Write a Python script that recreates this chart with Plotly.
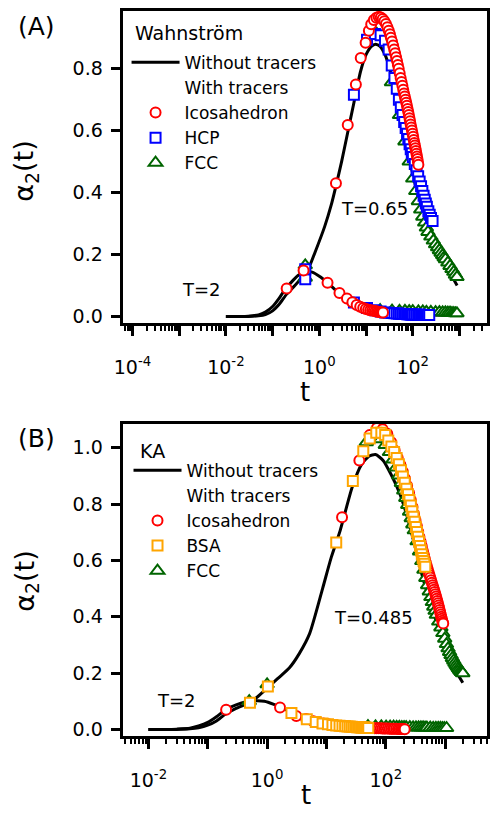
import plotly.graph_objects as go

FONT = "DejaVu Sans"
RED = "#ff0000"; BLUE = "#0000ff"; GREEN = "#006400"; ORANGE = "#ffa500"

# ---------------- Panel A (Wahnström) ----------------
A_black_T2_t = [0.01, 0.02, 0.03, 0.05, 0.07, 0.1, 0.14, 0.18, 0.25, 0.35, 0.5, 0.7, 1.0, 1.5, 2.5, 4, 6, 10, 15, 25, 50, 100, 250, 500]
A_black_T2_v = [0.0, 0.0, 0.001, 0.005, 0.014, 0.032, 0.06, 0.085, 0.11, 0.132, 0.145, 0.143, 0.13, 0.109, 0.078, 0.056, 0.04, 0.026, 0.019, 0.013, 0.008, 0.006, 0.005, 0.004]

A_black_T065_t = [0.01, 0.03, 0.05, 0.07, 0.1, 0.14, 0.2, 0.3, 0.45, 0.6, 0.8, 1.3, 1.8, 2.3, 3.0, 4.0, 5.5, 7.6, 10, 13, 16, 20, 26, 32, 39, 50, 63, 80, 100, 140, 210, 300, 430, 600, 890]
A_black_T065_v = [0.0, 0.0, 0.002, 0.006, 0.018, 0.04, 0.072, 0.1, 0.13, 0.158, 0.205, 0.29, 0.36, 0.425, 0.5, 0.59, 0.69, 0.79, 0.845, 0.872, 0.879, 0.872, 0.842, 0.80, 0.746, 0.675, 0.61, 0.53, 0.46, 0.37, 0.27, 0.22, 0.18, 0.145, 0.10]

A_ico_T2_t = [0.2, 0.46, 1.5, 2.7, 3.9, 5.1, 6.3, 7.5, 8.7, 9.9, 11.1, 12.3, 13.5, 14.7, 15.9, 17.1, 18.3, 19.5, 20.7, 21.9, 23.1]
A_ico_T2_v = [0.09, 0.148, 0.109, 0.076, 0.058, 0.046, 0.037, 0.031, 0.027, 0.024, 0.022, 0.02, 0.019, 0.018, 0.017, 0.016, 0.015, 0.014, 0.0135, 0.013, 0.0125]

A_ico_T065_t = [2.27, 4.06, 6.06, 7.7, 9.8, 11.5, 12.9, 14.7, 16.7, 18.7, 20.7, 22.7, 24.7, 26.7, 28.7,
                30.7, 32.5, 34, 36, 38, 40, 42, 44, 46, 48, 50, 52.5, 55, 57.5, 60, 62.5, 65, 67.5, 70, 72.5,
                75, 77.5, 80, 82.5, 85, 87.5, 90, 93, 96, 99, 102, 105, 108, 111, 114, 117, 120, 123, 126, 129, 132]
A_ico_T065_v = [0.43, 0.618, 0.749, 0.834, 0.884, 0.922, 0.943, 0.957, 0.964, 0.967, 0.965, 0.96, 0.953, 0.944, 0.934,
                0.922, 0.911, 0.9, 0.888, 0.875, 0.862, 0.85, 0.837, 0.825, 0.812, 0.80, 0.785, 0.77, 0.757, 0.745, 0.732, 0.72, 0.71, 0.70, 0.69,
                0.68, 0.67, 0.66, 0.65, 0.64, 0.63, 0.62, 0.61, 0.60, 0.59, 0.58, 0.57, 0.56, 0.552, 0.543, 0.534, 0.525, 0.516, 0.508, 0.499, 0.49]

A_hcp_T2_t = [0.5, 5.5, 10.5, 15.5, 20.5, 25.5, 30.5, 35.5, 40.5, 45.5, 50.5, 55.5, 60.5, 65.5, 70.5, 75.5, 80.5, 85.5, 90.5, 95.5, 100.5, 110.5, 120.5, 130.5, 140.5, 150.5, 160.5, 170.5, 180.5, 190.5, 200.5, 210.5, 225.5]
A_hcp_T2_v = [0.12, 0.045, 0.027, 0.02, 0.016, 0.013, 0.012, 0.011, 0.010, 0.0095, 0.009, 0.0085, 0.008, 0.0078, 0.0075, 0.0073, 0.007, 0.0068, 0.0066, 0.0064, 0.0062, 0.006, 0.0058, 0.0056, 0.0054, 0.0052, 0.005, 0.0049, 0.0048, 0.0047, 0.0046, 0.0045, 0.0044]

A_hcp_T065_t = [0.5, 5.5, 10.5, 15.5, 20.5, 25.5, 30.5, 35.5, 40.5, 45.5, 50.5, 55.5, 60.5, 65.5, 70.5, 75.5, 80.5, 85.5, 90.5, 95.5, 100.5, 110.5, 120.5, 130.5, 140.5, 150.5, 160.5, 170.5, 180.5, 190.5, 200.5, 215.5, 230.5, 245.5, 265.5]
A_hcp_T065_v = [0.152, 0.716, 0.893, 0.912, 0.908, 0.89, 0.862, 0.81, 0.77, 0.735, 0.70, 0.675, 0.65, 0.628, 0.608, 0.59, 0.573, 0.556, 0.54, 0.527, 0.515, 0.492, 0.472, 0.453, 0.436, 0.42, 0.405, 0.39, 0.377, 0.365, 0.354, 0.34, 0.328, 0.318, 0.308]

A_fcc_T2_t = [0.5, 20, 36, 52, 68, 84, 100, 132, 164, 196, 244, 308, 372, 436, 500, 564, 628, 692, 756, 820, 884]
A_fcc_T2_v = [0.125, 0.02, 0.019, 0.018, 0.018, 0.017, 0.017, 0.016, 0.016, 0.015, 0.015, 0.014, 0.014, 0.013, 0.013, 0.012, 0.012, 0.011, 0.011, 0.01, 0.01]

A_fcc_T065_t = [0.5, 17, 35, 52, 68, 84, 100, 116, 132, 148, 164, 180, 196, 212, 244, 276, 308, 340, 372, 404, 436, 468, 500, 564, 628, 692, 756, 820, 884]
A_fcc_T065_v = [0.165, 0.912, 0.756, 0.65, 0.565, 0.50, 0.445, 0.405, 0.372, 0.345, 0.322, 0.303, 0.287, 0.273, 0.258, 0.245, 0.233, 0.223, 0.214, 0.206, 0.198, 0.191, 0.185, 0.174, 0.163, 0.153, 0.144, 0.135, 0.127]

# ---------------- Panel B (KA) ----------------
B_black_T2_t = [0.01, 0.02, 0.03, 0.05, 0.07, 0.1, 0.14, 0.2, 0.3, 0.45, 0.65, 0.9, 1.3, 1.8, 2.6, 4, 6, 10, 20, 50, 100, 200, 500, 1000]
B_black_T2_v = [0.0, 0.0, 0.001, 0.004, 0.012, 0.025, 0.045, 0.07, 0.087, 0.098, 0.102, 0.1, 0.089, 0.076, 0.059, 0.041, 0.029, 0.018, 0.01, 0.005, 0.003, 0.002, 0.0015, 0.001]

B_black_T0485_t = [0.01, 0.03, 0.05, 0.07, 0.1, 0.14, 0.2, 0.3, 0.5, 0.7, 1.0, 1.5, 2.4, 3.5, 5.2, 8.6, 12, 17, 27, 39, 52, 67, 90, 122, 170, 231, 310, 430, 560, 800, 1055, 1400, 1980]
B_black_T0485_v = [0.0, 0.0, 0.002, 0.006, 0.015, 0.03, 0.055, 0.075, 0.095, 0.117, 0.146, 0.18, 0.22, 0.27, 0.34, 0.50, 0.61, 0.706, 0.859, 0.941, 0.97, 0.976, 0.955, 0.906, 0.84, 0.753, 0.65, 0.53, 0.45, 0.35, 0.28, 0.22, 0.166]

B_ico_T2_t = [0.204, 1.65, 3.1, 4.55, 6.0, 7.45, 8.9, 10.35, 11.8, 13.25, 14.7, 17.6, 20.5, 23.4, 26.3, 29.2, 32.1, 35, 38, 41, 44, 47, 50, 55, 60, 65, 70, 76, 82, 88, 94, 100, 108, 116, 124, 132, 140, 150, 160, 170, 180, 190, 200, 208]
B_ico_T2_v = [0.07, 0.078, 0.048, 0.037, 0.029, 0.024, 0.021, 0.019, 0.017, 0.0155, 0.014, 0.012, 0.011, 0.01, 0.009, 0.0085, 0.008, 0.0075, 0.007, 0.0065, 0.006, 0.0057, 0.0055, 0.005, 0.0047, 0.0044, 0.0042, 0.004, 0.0037, 0.0035, 0.0033, 0.0031, 0.0029, 0.0027, 0.0025, 0.0023, 0.0021, 0.002, 0.0018, 0.0016, 0.0015, 0.0013, 0.0012, 0.001]

B_ico_T0485_t = [18.3, 35.8, 53.3, 70.8, 88.3, 105.8, 123.3, 140.8, 158.3, 175.8, 193.3, 210.8, 228.3, 245.8, 263.3, 280.8, 298.3, 315.8, 333.3, 350.8, 368.3, 385.8, 403.3, 420.8, 438.3, 455.8, 473.3, 490.8, 508.3, 525.8, 543.3, 560.8, 578.3, 595.8, 613.3, 630.8, 648.3, 665.8, 683.3, 700.8, 718.3, 735.8, 753.3, 770.8, 788.3, 805.8, 823.3, 840.8, 858.3, 875.8, 893.3, 910.8, 927]
B_ico_T0485_v = [0.753, 0.955, 1.045, 1.07, 1.066, 1.05, 1.02, 0.99, 0.965, 0.94, 0.915, 0.89, 0.865, 0.84, 0.815, 0.79, 0.765, 0.743, 0.722, 0.702, 0.683, 0.666, 0.65, 0.634, 0.619, 0.605, 0.592, 0.58, 0.569, 0.558, 0.548, 0.539, 0.53, 0.521, 0.512, 0.504, 0.496, 0.488, 0.48, 0.472, 0.464, 0.456, 0.448, 0.44, 0.432, 0.424, 0.416, 0.408, 0.4, 0.393, 0.386, 0.38, 0.376]

B_bsa_T2_t = [0.514, 2.57, 4.66, 6.6, 8.6, 10.6, 12.6, 14.6, 16.6, 18.6, 20.6, 22.6, 24.6, 26.6, 28.6, 30.6, 32.6, 34.6, 36.6, 38.6, 40.6, 42.6, 44.6, 46.6, 48.6, 50.6]
B_bsa_T2_v = [0.095, 0.058, 0.036, 0.026, 0.021, 0.018, 0.016, 0.014, 0.013, 0.012, 0.011, 0.0105, 0.01, 0.0095, 0.009, 0.0085, 0.008, 0.0078, 0.0075, 0.0072, 0.007, 0.0067, 0.0063, 0.006, 0.0056, 0.0052]

B_bsa_T0485_t = [1.03, 14.6, 27.8, 41.7, 53.6, 69, 84, 97.5, 110, 124, 138, 152, 166, 180, 194, 208, 222, 236, 250, 264, 278, 292, 306, 320, 334, 348, 362, 376, 390, 404, 418, 432, 446, 462]
B_bsa_T0485_v = [0.152, 0.664, 0.882, 0.988, 1.033, 1.053, 1.053, 1.045, 1.026, 1.005, 0.985, 0.964, 0.942, 0.92, 0.898, 0.876, 0.855, 0.835, 0.815, 0.795, 0.775, 0.755, 0.737, 0.719, 0.701, 0.684, 0.667, 0.651, 0.636, 0.622, 0.609, 0.598, 0.588, 0.578]

B_fcc_T2_t = [0.5, 50, 67, 84, 101, 118, 135, 152, 169, 186, 203, 220, 254, 288, 322, 356, 390, 424, 458, 492, 560, 628, 696, 764, 832, 900, 968, 1055]
B_fcc_T2_v = [0.1, 0.012, 0.011, 0.011, 0.01, 0.01, 0.0095, 0.009, 0.009, 0.0085, 0.0085, 0.008, 0.008, 0.0075, 0.0075, 0.007, 0.007, 0.0068, 0.0066, 0.0064, 0.006, 0.0058, 0.0056, 0.0054, 0.0052, 0.005, 0.005, 0.005]

B_fcc_T0485_t = [1.0, 47, 64, 81, 98, 115, 132, 149, 166, 183, 200, 217, 234, 251, 268, 285, 302, 336, 370, 404, 438, 472, 506, 540, 574, 608, 642, 676, 710, 778, 846, 914, 982, 1050, 1118, 1186, 1254, 1322, 1390, 1458, 1526, 1594, 1662, 1730, 1798, 1866, 1934, 1982]
B_fcc_T0485_v = [0.16, 1.02, 1.035, 1.03, 1.01, 0.985, 0.958, 0.93, 0.902, 0.875, 0.848, 0.822, 0.797, 0.773, 0.75, 0.728, 0.707, 0.668, 0.632, 0.598, 0.567, 0.538, 0.512, 0.49, 0.47, 0.452, 0.436, 0.421, 0.407, 0.383, 0.362, 0.342, 0.322, 0.303, 0.288, 0.275, 0.264, 0.254, 0.245, 0.237, 0.23, 0.224, 0.218, 0.213, 0.208, 0.204, 0.201, 0.199]

# tick labels
A_xtick_vals = [1e-4, 1e-3, 1e-2, 1e-1, 1e0, 1e1, 1e2, 1e3]
A_xtick_text = ["10<sup>-4</sup>", "", "10<sup>-2</sup>", "", "10<sup>0</sup>", "", "10<sup>2</sup>", ""]
B_xtick_vals = [1e-2, 1e-1, 1e0, 1e1, 1e2, 1e3]
B_xtick_text = ["10<sup>-2</sup>", "", "10<sup>0</sup>", "", "10<sup>2</sup>", ""]
A_ytick_vals = [0.0, 0.2, 0.4, 0.6, 0.8]
B_ytick_vals = [0.0, 0.2, 0.4, 0.6, 0.8, 1.0]

W, H = 490, 817
fig = go.Figure()

MS = 10   # circle / square size
TS = 12   # triangle size


def line(t, v, xa, ya, legend, show):
    fig.add_trace(go.Scatter(x=t, y=v, mode="lines", name="Without tracers",
                             line=dict(color="black", width=3, shape="spline", smoothing=0.6),
                             xaxis=xa, yaxis=ya, legend=legend, showlegend=show, legendrank=1))


def marks(t, v, xa, ya, name, symbol, color, size, legend, show, rank):
    fig.add_trace(go.Scatter(x=t, y=v, mode="markers", name=name,
                             marker=dict(symbol=symbol, size=size, color="white",
                                         line=dict(color=color, width=2)),
                             xaxis=xa, yaxis=ya, legend=legend, showlegend=show, legendrank=rank))


def dummy(xa, ya, legend):
    fig.add_trace(go.Scatter(x=[None], y=[None], mode="markers", name="With tracers",
                             marker=dict(color="rgba(0,0,0,0)", size=1),
                             xaxis=xa, yaxis=ya, legend=legend, legendrank=2))

# Panel A
line(A_black_T2_t, A_black_T2_v, "x", "y", "legend", True)
line(A_black_T065_t, A_black_T065_v, "x", "y", "legend", False)
dummy("x", "y", "legend")
marks(A_fcc_T2_t, A_fcc_T2_v, "x", "y", "FCC", "triangle-up", GREEN, TS, "legend", True, 5)
marks(A_fcc_T065_t, A_fcc_T065_v, "x", "y", "FCC", "triangle-up", GREEN, TS, "legend", False, 5)
marks(A_hcp_T2_t, A_hcp_T2_v, "x", "y", "HCP", "square", BLUE, MS, "legend", True, 4)
marks(A_hcp_T065_t, A_hcp_T065_v, "x", "y", "HCP", "square", BLUE, MS, "legend", False, 4)
marks(A_ico_T2_t, A_ico_T2_v, "x", "y", "Icosahedron", "circle", RED, MS, "legend", True, 3)
marks(A_ico_T065_t, A_ico_T065_v, "x", "y", "Icosahedron", "circle", RED, MS, "legend", False, 3)

# Panel B
line(B_black_T2_t, B_black_T2_v, "x2", "y2", "legend2", True)
line(B_black_T0485_t, B_black_T0485_v, "x2", "y2", "legend2", False)
dummy("x2", "y2", "legend2")
marks(B_fcc_T2_t, B_fcc_T2_v, "x2", "y2", "FCC", "triangle-up", GREEN, TS, "legend2", True, 5)
marks(B_fcc_T0485_t, B_fcc_T0485_v, "x2", "y2", "FCC", "triangle-up", GREEN, TS, "legend2", False, 5)
marks(B_ico_T2_t, B_ico_T2_v, "x2", "y2", "Icosahedron", "circle", RED, MS, "legend2", True, 3)
marks(B_ico_T0485_t, B_ico_T0485_v, "x2", "y2", "Icosahedron", "circle", RED, MS, "legend2", False, 3)
marks(B_bsa_T2_t, B_bsa_T2_v, "x2", "y2", "BSA", "square", ORANGE, MS, "legend2", True, 4)
marks(B_bsa_T0485_t, B_bsa_T0485_v, "x2", "y2", "BSA", "square", ORANGE, MS, "legend2", False, 4)

common_x = dict(type="log", showgrid=False, zeroline=False, showline=True, linecolor="black",
                linewidth=3, mirror=True, ticks="outside", ticklen=10, tickwidth=2.5,
                tickcolor="black", ticklabelstandoff=15,
                tickfont=dict(family=FONT, size=19, color="black"),
                minor=dict(ticks="outside", ticklen=5, tickwidth=2, tickcolor="black",
                           dtick="D1", showgrid=False))
common_y = dict(showgrid=False, zeroline=False, showline=True, linecolor="black", linewidth=3,
                mirror=True, ticks="outside", ticklen=9, tickwidth=3, tickcolor="black",
                ticklabelstandoff=4, tickformat=".1f",
                tickfont=dict(family=FONT, size=19, color="black"))

LEG = dict(xanchor="left", yanchor="top", bgcolor="rgba(0,0,0,0)", itemwidth=48,
           font=dict(family=FONT, size=17), tracegroupgap=0)

fig.update_layout(
    width=W, height=H, autosize=False,
    margin=dict(l=0, r=0, t=0, b=0),
    paper_bgcolor="white", plot_bgcolor="white",
    font=dict(family=FONT, size=18, color="black"),
    xaxis=dict(common_x, domain=[116 / W, 488 / W], anchor="y", range=[-4.21, 3.59],
               tickvals=A_xtick_vals, ticktext=A_xtick_text),
    yaxis=dict(common_y, domain=[1 - 325 / H, 1 - 11 / H], anchor="x", range=[-0.0225, 0.9863],
               tickvals=A_ytick_vals),
    xaxis2=dict(common_x, domain=[116 / W, 488 / W], anchor="y2", range=[-2.434, 3.705],
                tickvals=B_xtick_vals, ticktext=B_xtick_text),
    yaxis2=dict(common_y, domain=[1 - 740 / H, 1 - 426 / H], anchor="x2", range=[-0.0247, 1.0848],
                tickvals=B_ytick_vals),
    legend=dict(LEG, x=120 / W, y=1 - 45 / H),
    legend2=dict(LEG, x=122 / W, y=1 - 455 / H),
)


def note(text, x, y, size=18, angle=0, xanchor="center", yanchor="middle"):
    fig.add_annotation(text=text, x=x / W, y=1 - y / H, xref="paper", yref="paper",
                       showarrow=False, textangle=angle, xanchor=xanchor, yanchor=yanchor,
                       font=dict(family=FONT, size=size, color="black"))

note("(A)", 7, 27, 25, xanchor="left")
note("(B)", 7, 441, 25, xanchor="left")
note("Wahnström", 127, 33, 19, xanchor="left")
note("KA", 132, 453, 19, xanchor="left")
note("α<sub>2</sub>(t)", 17, 172, 27, -90)
note("α<sub>2</sub>(t)", 17, 584, 27, -90)
note("t", 302, 394, 26)
note("t", 303, 816, 26, yanchor="bottom")
note("T=2", 197, 291, 18)
note("T=0.65", 373, 210, 18)
note("T=2", 171, 704, 18)
note("T=0.485", 372, 621, 18)

fig.write_html("out.html", config={"displayModeBar": False},
               post_script="document.body.style.margin='0px';")
